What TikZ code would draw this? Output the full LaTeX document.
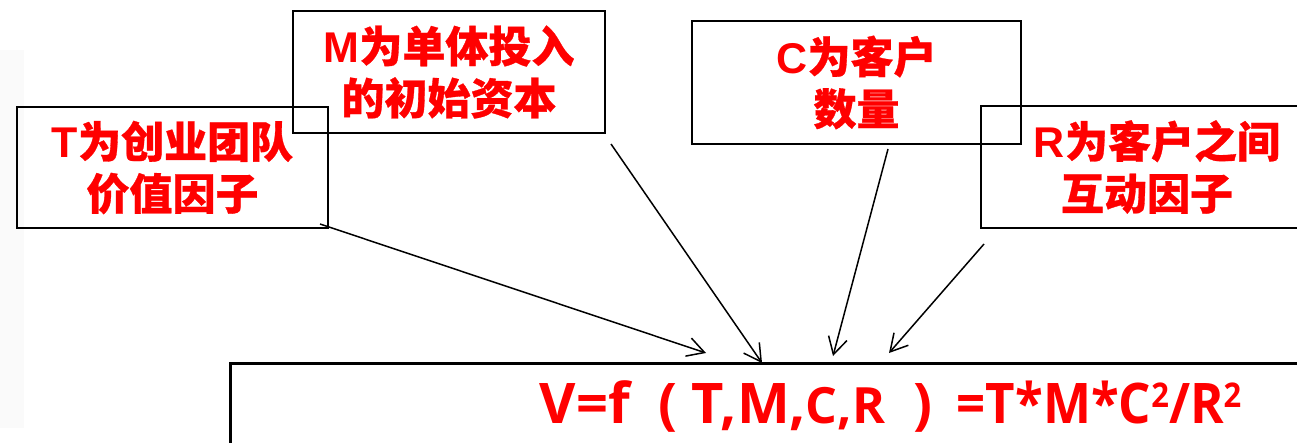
\documentclass[tikz,border=0pt]{standalone}
\usepackage{fontspec}
\setmainfont{Liberation Sans}
\newfontfamily\cjk{Noto Sans CJK SC}[BoldFeatures={FakeBold=0.7}]
\newfontfamily\fml{Open Sans}
\newfontfamily\fmln{Open Sans}[FakeStretch=0.91]
\usetikzlibrary{arrows.meta}
\newcommand\zh[1]{{\cjk #1}}
\newcommand\fsq{\raisebox{16pt}{\fontsize{34}{36}\selectfont 2}}
\newcommand\putat[2]{\makebox[0pt][l]{\hspace*{#1pt}#2}}
\tikzset{
  box/.style={draw=black, line width=2pt, inner sep=0pt, align=center, text=red,
    font=\fontsize{43}{52}\selectfont\bfseries},
  formbox/.style={draw=black, line width=2.5pt, inner sep=0pt, anchor=north west},
  formula/.style={text=red, inner sep=0pt, font=\fml\fontsize{56}{64}\selectfont\bfseries},
  conn/.style={line width=1.5pt, line cap=butt,
    -{Straight Barb[length=17pt,width=19pt,line width=1.5pt]}},
}
\begin{document}
\begin{tikzpicture}[x=1pt,y=-1pt]
\useasboundingbox (0,0) rectangle (1297,442);
\clip (0,0) rectangle (1297,442);
\fill[black!2] (0,50) rectangle (24,428);
% boxes
\node[box, minimum width=311, minimum height=121] (T) at (172.5,167.5)
  {T\zh{为创业团队}\\\zh{价值因子}};
\node[box, minimum width=312, minimum height=122] (M) at (449,72)
  {M\zh{为单体投入}\\\zh{的初始资本}};
\node[box, minimum width=329, minimum height=123] (C) at (856.5,82.5)
  {C\zh{为客户}\\\zh{数量}};
\node[box, minimum width=352, minimum height=122] (R) at (1157,167)
  {R\zh{为客户之间}\\\zh{互动因子}\hspace*{20pt}};
\node[formbox, minimum width=1320, minimum height=160] (F) at (229,362) {};
\node[formula, anchor=base west] (V) at (539,423)
  {\putat{0}{V=f}\putat{119}{(}\putat{152}{T,M,}\putat{266}{\fontsize{50}{54}\selectfont C,R}\putat{374}{)}\putat{417}{\fmln =T*M*C\fsq/R\fsq}};
% connector end points
\coordinate (t0) at (320,224);
\coordinate (t1) at (706,353);
\coordinate (m0) at (611,144);
\coordinate (m1) at (762,363);
\coordinate (c0) at (888,149);
\coordinate (c1) at (833,356);
\coordinate (r0) at (984,244);
\coordinate (r1) at (889,353);
\draw[conn] (t0) -- (t1);
\draw[conn] (m0) -- (m1);
\draw[conn] (c0) -- (c1);
\draw[conn] (r0) -- (r1);
\end{tikzpicture}
\end{document}
